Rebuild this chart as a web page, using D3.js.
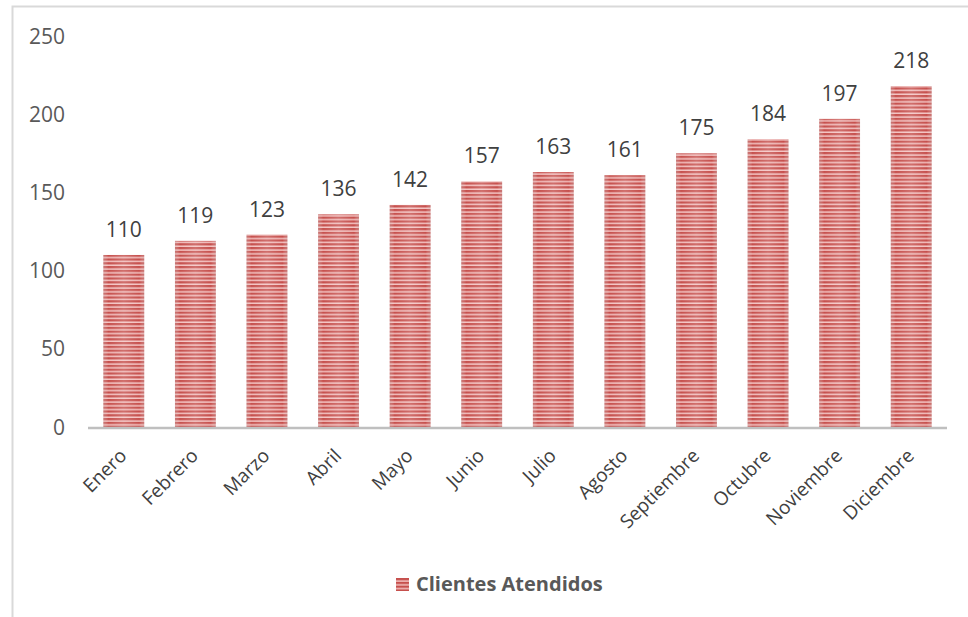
<!DOCTYPE html>
<html>
<head>
<meta charset="utf-8">
<script src="https://cdn.jsdelivr.net/npm/d3@7"></script>
<style>
  body { margin: 0; background: #fff; }
  svg { display: block; font-family: "Open Sans", sans-serif; }
</style>
</head>
<body>
<svg width="968" height="617"></svg>
<script>
var months = ["Enero", "Febrero", "Marzo", "Abril", "Mayo", "Junio", "Julio",
  "Agosto", "Septiembre", "Octubre", "Noviembre", "Diciembre"]
var clientes = [110, 119, 123, 136, 142, 157, 163, 161, 175, 184, 197, 218]
var yTicks = [0, 50, 100, 150, 200, 250]
var seriesName = "Clientes Atendidos"

var svg = d3.select("svg")

// chart frame
svg.append("rect")
  .attr("x", 12.5).attr("y", 6.5)
  .attr("width", 980).attr("height", 640)
  .attr("fill", "none")
  .attr("stroke", "#d9d9d9")
  .attr("stroke-width", 2)

// striped fill like the office pattern
var defs = svg.append("defs")
var pat = defs.append("pattern")
  .attr("id", "stripes")
  .attr("patternUnits", "userSpaceOnUse")
  .attr("width", 8).attr("height", 3.8)
pat.append("rect").attr("width", 8).attr("height", 3.8).attr("fill", "#f3c3c2")
pat.append("rect").attr("width", 8).attr("height", 2.3).attr("fill", "#c6504d")

var grad = defs.append("linearGradient")
  .attr("id", "shine")
  .attr("x1", "0%").attr("x2", "100%")
grad.append("stop").attr("offset", "0%").attr("stop-color", "#c8b8b8").attr("stop-opacity", 0.35)
grad.append("stop").attr("offset", "12%").attr("stop-color", "#ffffff").attr("stop-opacity", 0)
grad.append("stop").attr("offset", "50%").attr("stop-color", "#ffffff").attr("stop-opacity", 0.18)
grad.append("stop").attr("offset", "88%").attr("stop-color", "#ffffff").attr("stop-opacity", 0)
grad.append("stop").attr("offset", "100%").attr("stop-color", "#c8b8b8").attr("stop-opacity", 0.35)

var x = d3.scaleBand()
  .domain(months)
  .range([88, 947])
  .paddingInner(0.43)
  .paddingOuter(0.215)

var y = d3.scaleLinear()
  .domain([0, 250])
  .range([427, 36])

// y labels
svg.append("g")
  .selectAll("text")
  .data(yTicks)
  .enter()
  .append("text")
  .attr("x", 65)
  .attr("y", function(d) { return y(d) + 7.5; })
  .attr("text-anchor", "end")
  .attr("font-size", 21)
  .attr("fill", "#595959")
  .text(function(d) { return d; })

// bars
var bars = svg.append("g")
bars.selectAll("rect.bar")
  .data(clientes)
  .enter()
  .append("rect")
  .classed("bar", true)
  .attr("x", function(d, i) { return x(months[i]); })
  .attr("y", function(d) { return y(d); })
  .attr("width", x.bandwidth())
  .attr("height", function(d) { return y(0) - y(d); })
  .attr("fill", "url(#stripes)")
bars.selectAll("rect.shine")
  .data(clientes)
  .enter()
  .append("rect")
  .classed("shine", true)
  .attr("x", function(d, i) { return x(months[i]); })
  .attr("y", function(d) { return y(d); })
  .attr("width", x.bandwidth())
  .attr("height", function(d) { return y(0) - y(d); })
  .attr("fill", "url(#shine)")

// value labels
svg.append("g")
  .selectAll("text")
  .data(clientes)
  .enter()
  .append("text")
  .attr("x", function(d, i) { return x(months[i]) + x.bandwidth() / 2; })
  .attr("y", function(d) { return y(d) - 18; })
  .attr("text-anchor", "middle")
  .attr("font-size", 21)
  .attr("fill", "#404040")
  .text(function(d) { return d; })

// baseline
svg.append("line")
  .attr("x1", 88).attr("x2", 947)
  .attr("y1", y(0) + 1).attr("y2", y(0) + 1)
  .attr("stroke", "#bfbfbf")
  .attr("stroke-width", 2.5)

// month labels
svg.append("g")
  .selectAll("text")
  .data(months)
  .enter()
  .append("text")
  .attr("transform", function(d) {
    var cx = x(d) + x.bandwidth() / 2 + 4;
    return "translate(" + cx + ",457) rotate(-45)";
  })
  .attr("text-anchor", "end")
  .attr("font-size", 19)
  .attr("fill", "#404040")
  .text(function(d) { return d; })

// legend
var leg = svg.append("g").attr("transform", "translate(396,578)")
leg.append("rect")
  .attr("width", 13).attr("height", 13)
  .attr("fill", "url(#stripes)")
leg.append("text")
  .attr("x", 20).attr("y", 13)
  .attr("font-size", 20)
  .attr("font-weight", "bold")
  .attr("fill", "#595959")
  .text(seriesName)
</script>
</body>
</html>
